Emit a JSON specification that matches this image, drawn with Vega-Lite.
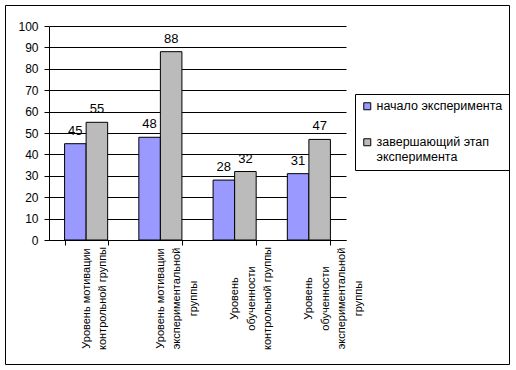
{
  "$schema": "https://vega.github.io/schema/vega-lite/v6.json",
  "width": 504,
  "height": 359,
  "autosize": {"type": "none"},
  "padding": {"left": 5, "top": 5, "right": 7, "bottom": 6},
  "background": "white",
  "config": {
    "view": {"stroke": "black", "strokeWidth": 1},
    "font": "Liberation Sans",
    "axis": {"domainColor": "black", "tickColor": "black", "labelColor": "black", "gridColor": "black", "gridOpacity": 1, "tickSize": 5}
  },
  "data": {
    "values": [
      {"group": "Уровень мотивации|контрольной группы", "stage": "начало эксперимента", "value": 45},
      {"group": "Уровень мотивации|контрольной группы", "stage": "завершающий этап эксперимента", "value": 55},
      {"group": "Уровень мотивации|экспериментальной|группы", "stage": "начало эксперимента", "value": 48},
      {"group": "Уровень мотивации|экспериментальной|группы", "stage": "завершающий этап эксперимента", "value": 88},
      {"group": "Уровень|обученности|контрольной группы", "stage": "начало эксперимента", "value": 28},
      {"group": "Уровень|обученности|контрольной группы", "stage": "завершающий этап эксперимента", "value": 32},
      {"group": "Уровень|обученности|экспериментальной|группы", "stage": "начало эксперимента", "value": 31},
      {"group": "Уровень|обученности|экспериментальной|группы", "stage": "завершающий этап эксперимента", "value": 47}
    ]
  },
  "encoding": {
    "x": {
      "field": "group", "type": "nominal", "sort": null,
      "scale": {"range": [44, 341], "paddingInner": 0.42, "paddingOuter": 0.21},
      "axis": {
        "title": null, "offset": -124, "tickBand": "extent", "grid": false,
        "labelAngle": -90, "labelAlign": "center", "labelBaseline": "middle",
        "labelPadding": 53, "labelFontSize": 11, "labelLineHeight": 16.5,
        "labelExpr": "split(datum.label, '|')"
      }
    },
    "xOffset": {"field": "stage", "type": "nominal", "sort": ["начало эксперимента", "завершающий этап эксперимента"]},
    "y": {
      "field": "value", "type": "quantitative",
      "scale": {"domain": [0, 100], "range": [235, 21], "nice": false},
      "axis": {
        "title": null, "offset": -44, "grid": true, "values": [0, 10, 20, 30, 40, 50, 60, 70, 80, 90, 100],
        "labelFontSize": 12, "labelPadding": 6
      }
    }
  },
  "layer": [
    {
      "mark": {"type": "bar", "stroke": "black", "strokeWidth": 1},
      "encoding": {
        "fill": {
          "field": "stage", "type": "nominal",
          "sort": ["начало эксперимента", "завершающий этап эксперимента"],
          "scale": {"domain": ["начало эксперимента", "завершающий этап эксперимента"], "range": ["#9999FF", "#BBBBBB"]},
          "legend": {
            "title": null, "orient": "none", "legendX": 350, "legendY": 89,
            "strokeColor": "black", "padding": 6, "symbolType": "square", "symbolSize": 49,
            "symbolStrokeColor": "black", "symbolStrokeWidth": 1, "labelFontSize": 12.5, "labelColor": "black",
            "rowPadding": 23, "labelLimit": 200, "labelOffset": 3,
            "labelExpr": "datum.label == 'завершающий этап эксперимента' ? ['завершающий этап', 'эксперимента'] : datum.label"
          }
        }
      }
    },
    {
      "mark": {"type": "text", "baseline": "alphabetic", "dy": -9, "fontSize": 13, "color": "black"},
      "encoding": {"text": {"field": "value", "type": "quantitative"}}
    }
  ]
}
